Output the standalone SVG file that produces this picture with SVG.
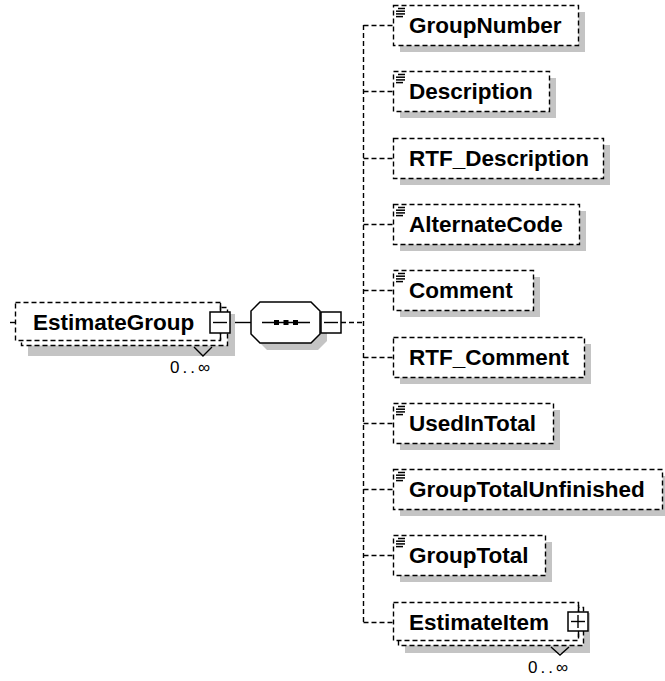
<svg xmlns="http://www.w3.org/2000/svg" width="665" height="681" viewBox="0 0 665 681">
<style>
.bx{fill:#fff;stroke:#000;stroke-width:1.4;stroke-dasharray:5,3}
.sh{fill:#c4c4c4;stroke:none}
.cn{fill:none;stroke:#000;stroke-width:1.4;stroke-dasharray:5,3}
.sl{fill:none;stroke:#000;stroke-width:1.4}
.sq{fill:#fff;stroke:#000;stroke-width:1.5}
.t{font-family:"Liberation Sans",Arial,sans-serif;font-weight:bold;font-size:22.5px;fill:#000}
.m{font-family:"Liberation Sans",Arial,sans-serif;font-size:17px;fill:#000}
.ic{stroke:#000;stroke-width:1.5}
</style>
<defs>
<g id="icon">
<line class="ic" x1="398" y1="3.5" x2="405" y2="3.5"/>
<line class="ic" x1="396" y1="6.2" x2="405" y2="6.2"/>
<line class="ic" x1="396" y1="8.9" x2="405" y2="8.9"/>
<line class="ic" x1="396" y1="11.6" x2="403" y2="11.6"/>
</g>
</defs>
<rect width="665" height="681" fill="#fff"/>

<g id="connectors">
<line class="sl" x1="230" y1="322.5" x2="251" y2="322.5"/>
<line class="cn" x1="341" y1="322.5" x2="363.5" y2="322.5"/>
<line class="cn" x1="363.5" y1="25" x2="363.5" y2="622"/>
<line class="cn" x1="363.5" y1="25.5" x2="393" y2="25.5"/>
<line class="cn" x1="363.5" y1="91.5" x2="393" y2="91.5"/>
<line class="cn" x1="363.5" y1="158.5" x2="393" y2="158.5"/>
<line class="cn" x1="363.5" y1="224.5" x2="393" y2="224.5"/>
<line class="cn" x1="363.5" y1="290.5" x2="393" y2="290.5"/>
<line class="cn" x1="363.5" y1="357.5" x2="393" y2="357.5"/>
<line class="cn" x1="363.5" y1="423.5" x2="393" y2="423.5"/>
<line class="cn" x1="363.5" y1="489.5" x2="393" y2="489.5"/>
<line class="cn" x1="363.5" y1="555.5" x2="393" y2="555.5"/>
<line class="cn" x1="363.5" y1="622.5" x2="393" y2="622.5"/>
</g>

<g id="EstimateGroup">
<rect class="sh" x="28" y="314" width="207" height="42"/>
<rect class="bx" x="21.5" y="307.5" width="206" height="38"/>
<rect class="bx" x="15.5" y="302.5" width="205" height="38"/>
<line class="sl" x1="10" y1="322.5" x2="15" y2="322.5"/>
<text class="t" x="33" y="330">EstimateGroup</text>
<line class="sl" x1="220.5" y1="303" x2="220.5" y2="312"/>
<line class="sl" x1="220.5" y1="333" x2="220.5" y2="340"/>
<rect class="sq" x="210" y="312" width="20" height="21"/>
<line class="sl" x1="213" y1="322.5" x2="227" y2="322.5"/>
<polyline class="sl" points="194,347 203,356 212,347"/>
<text class="m" x="170" y="373" textLength="40" lengthAdjust="spacing">0..∞</text>
</g>

<g id="sequence">
<polygon class="sh" points="267,309 318,309 327,318 327,341 318,350 267,350 258,341 258,318"/>
<polygon fill="#fff" stroke="#000" stroke-width="1.5" points="260,302 311,302 320,311 320,334 311,343 260,343 251,334 251,311"/>
<line class="sl" x1="262" y1="322.5" x2="310" y2="322.5"/>
<rect x="274" y="320" width="5" height="5" fill="#000"/>
<rect x="283.5" y="320" width="5" height="5" fill="#000"/>
<rect x="293" y="320" width="5" height="5" fill="#000"/>
<rect class="sq" x="321" y="312" width="20" height="21"/>
<line class="sl" x1="324" y1="322.5" x2="338" y2="322.5"/>
</g>

<g id="GroupNumber">
<rect class="sh" x="400" y="12" width="185" height="40"/>
<rect class="bx" x="393.5" y="5.5" width="185" height="40"/>
<use href="#icon" y="5"/>
<text class="t" x="409" y="33">GroupNumber</text>
</g>

<g id="Description">
<rect class="sh" x="400" y="78" width="156" height="40"/>
<rect class="bx" x="393.5" y="71.5" width="156" height="40"/>
<use href="#icon" y="71"/>
<text class="t" x="409" y="99">Description</text>
</g>

<g id="RTF_Description">
<rect class="sh" x="400" y="145" width="210" height="40"/>
<rect class="bx" x="393.5" y="138.5" width="210" height="40"/>
<text class="t" x="409" y="166">RTF_Description</text>
</g>

<g id="AlternateCode">
<rect class="sh" x="400" y="211" width="186" height="40"/>
<rect class="bx" x="393.5" y="204.5" width="186" height="40"/>
<use href="#icon" y="204"/>
<text class="t" x="409" y="232">AlternateCode</text>
</g>

<g id="Comment">
<rect class="sh" x="400" y="277" width="140" height="40"/>
<rect class="bx" x="393.5" y="270.5" width="140" height="40"/>
<use href="#icon" y="270"/>
<text class="t" x="409" y="298">Comment</text>
</g>

<g id="RTF_Comment">
<rect class="sh" x="400" y="344" width="191" height="40"/>
<rect class="bx" x="393.5" y="337.5" width="191" height="40"/>
<text class="t" x="409" y="365">RTF_Comment</text>
</g>

<g id="UsedInTotal">
<rect class="sh" x="400" y="410" width="160" height="40"/>
<rect class="bx" x="393.5" y="403.5" width="160" height="40"/>
<use href="#icon" y="403"/>
<text class="t" x="409" y="431">UsedInTotal</text>
</g>

<g id="GroupTotalUnfinished">
<rect class="sh" x="400" y="476" width="269" height="40"/>
<rect class="bx" x="393.5" y="469.5" width="269" height="40"/>
<use href="#icon" y="469"/>
<text class="t" x="409" y="497">GroupTotalUnfinished</text>
</g>

<g id="GroupTotal">
<rect class="sh" x="400" y="542" width="152" height="40"/>
<rect class="bx" x="393.5" y="535.5" width="152" height="40"/>
<use href="#icon" y="535"/>
<text class="t" x="409" y="563">GroupTotal</text>
</g>

<g id="EstimateItem">
<rect class="sh" x="405" y="613" width="185" height="40"/>
<rect class="bx" x="398.5" y="607.5" width="185" height="38"/>
<rect class="bx" x="393.5" y="602.5" width="185" height="38"/>
<text class="t" x="409" y="630">EstimateItem</text>
<line class="sl" x1="578.5" y1="605" x2="578.5" y2="612"/>
<line class="sl" x1="578.5" y1="631" x2="578.5" y2="637"/>
<rect class="sq" x="568" y="612" width="20" height="19"/>
<line class="sl" x1="571" y1="621.5" x2="585" y2="621.5"/>
<line class="sl" x1="578" y1="615" x2="578" y2="628"/>
<polyline class="sl" points="551,647 560,655 569,647"/>
<text class="m" x="528" y="673" textLength="40" lengthAdjust="spacing">0..∞</text>
</g>
</svg>
